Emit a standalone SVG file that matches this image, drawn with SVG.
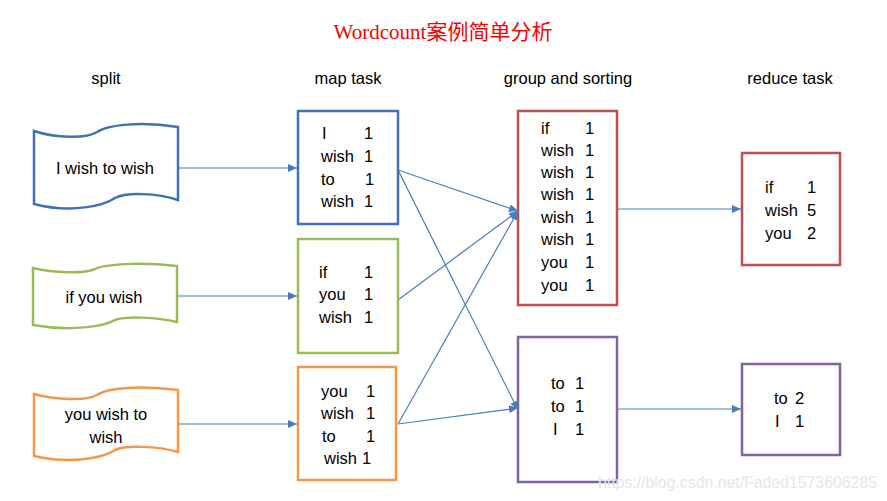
<svg xmlns="http://www.w3.org/2000/svg" width="887" height="501" viewBox="0 0 887 501">
<style>
  .t { font-family: "Liberation Sans", Arial, sans-serif; font-size: 16.5px; fill: #000; }
  .title { font-family: "Liberation Serif", "Noto Sans CJK SC", serif; font-size: 21px; fill: #ff0000; }
  .wm { font-family: "Liberation Sans", Arial, sans-serif; font-size: 17px; fill: #e6e6e6; }
  .blue { fill: #fff; stroke: #3F72B5; stroke-width: 2.5; }
  .green { fill: #fff; stroke: #9BBB59; stroke-width: 2.5; }
  .orange { fill: #fff; stroke: #F79646; stroke-width: 2.5; }
  .red { fill: #fff; stroke: #C0504D; stroke-width: 2.5; }
  .purple { fill: #fff; stroke: #8064A2; stroke-width: 2.5; }
  .conn { stroke: #4A7EBB; stroke-width: 1.2; fill: none; marker-end: url(#arr); }
</style>
<defs>
  <marker id="arr" markerUnits="userSpaceOnUse" markerWidth="9" markerHeight="8" refX="9" refY="4" orient="auto">
    <path d="M0,0 L9,4 L0,8 Z" fill="#4A7EBB"/>
  </marker>
</defs>
<rect width="887" height="501" fill="#fff"/>
<text class="title" x="443" y="39" text-anchor="middle">Wordcount案例简单分析</text>
<g id="headers">
  <text class="t" x="106" y="84" text-anchor="middle">split</text>
  <text class="t" x="348" y="84" text-anchor="middle">map task</text>
  <text class="t" x="568" y="84" text-anchor="middle">group and sorting</text>
  <text class="t" x="790" y="84" text-anchor="middle">reduce task</text>
</g>
<g id="connectors">
  <line class="conn" x1="178" y1="168" x2="297" y2="168"/>
  <line class="conn" x1="177" y1="296" x2="297" y2="296"/>
  <line class="conn" x1="178" y1="424" x2="297" y2="424"/>
  <line class="conn" x1="398" y1="170" x2="518" y2="211"/>
  <line class="conn" x1="398" y1="170" x2="518" y2="410"/>
  <line class="conn" x1="398" y1="300" x2="518" y2="211"/>
  <line class="conn" x1="398" y1="424" x2="518" y2="211"/>
  <line class="conn" x1="398" y1="424" x2="518" y2="408"/>
  <line class="conn" x1="617" y1="209" x2="741" y2="209"/>
  <line class="conn" x1="617" y1="409" x2="741" y2="409"/>
</g>
<g id="split1">
  <path class="blue" d="M34,131 C55,138 86,139 97,132 C107,125 140,121 178,127 L178,200 C157,193 126,192 115,198 C105,205 72,214 34,204 Z"/>
  <text class="t" x="105" y="174" text-anchor="middle">I wish to wish</text>
</g>
<g id="split2">
  <path class="green" d="M33,268 C54,273 84,274 95,269 C105,264 140,262 177,266 L177,322 C156,317 126,316 115,320 C105,326 72,332 33,325 Z"/>
  <text class="t" x="104" y="303" text-anchor="middle">if you wish</text>
</g>
<g id="split3">
  <path class="orange" d="M34,394 C55,400 86,401 97,395 C107,388 140,385 178,390 L178,452 C157,446 126,445 115,450 C105,457 72,465 34,456 Z"/>
  <text class="t" x="106" y="420" text-anchor="middle">you wish to</text>
  <text class="t" x="106" y="443" text-anchor="middle">wish</text>
</g>
<g id="map1">
  <rect class="blue" x="298" y="111" width="100" height="113"/>
  <text class="t" x="322" y="139">I</text><text class="t" x="364" y="139">1</text>
  <text class="t" x="321" y="162">wish</text><text class="t" x="364" y="162">1</text>
  <text class="t" x="321" y="185">to</text><text class="t" x="365" y="185">1</text>
  <text class="t" x="321" y="207">wish</text><text class="t" x="364" y="207">1</text>
</g>
<g id="map2">
  <rect class="green" x="298" y="239" width="100" height="114"/>
  <text class="t" x="319" y="278">if</text><text class="t" x="364" y="278">1</text>
  <text class="t" x="319" y="300">you</text><text class="t" x="364" y="300">1</text>
  <text class="t" x="319" y="323">wish</text><text class="t" x="364" y="323">1</text>
</g>
<g id="map3">
  <rect class="orange" x="298" y="367" width="98" height="113"/>
  <text class="t" x="321" y="397">you</text><text class="t" x="366" y="397">1</text>
  <text class="t" x="321" y="419">wish</text><text class="t" x="366" y="419">1</text>
  <text class="t" x="322" y="442">to</text><text class="t" x="366" y="442">1</text>
  <text class="t" x="324" y="464">wish</text><text class="t" x="362" y="464">1</text>
</g>
<g id="group1">
  <rect class="red" x="518" y="111" width="99" height="194"/>
  <text class="t" x="541" y="134">if</text><text class="t" x="585" y="134">1</text>
  <text class="t" x="541" y="156">wish</text><text class="t" x="585" y="156">1</text>
  <text class="t" x="541" y="178">wish</text><text class="t" x="585" y="178">1</text>
  <text class="t" x="541" y="200">wish</text><text class="t" x="585" y="200">1</text>
  <text class="t" x="541" y="223">wish</text><text class="t" x="585" y="223">1</text>
  <text class="t" x="541" y="245">wish</text><text class="t" x="585" y="245">1</text>
  <text class="t" x="541" y="268">you</text><text class="t" x="585" y="268">1</text>
  <text class="t" x="541" y="291">you</text><text class="t" x="585" y="291">1</text>
</g>
<g id="group2">
  <rect class="purple" x="518" y="337" width="99" height="145"/>
  <text class="t" x="551" y="389">to</text><text class="t" x="575" y="389">1</text>
  <text class="t" x="551" y="412">to</text><text class="t" x="575" y="412">1</text>
  <text class="t" x="553" y="435">I</text><text class="t" x="575" y="435">1</text>
</g>
<g id="reduce1">
  <rect class="red" x="742" y="153" width="98" height="112"/>
  <text class="t" x="765" y="193">if</text><text class="t" x="807" y="193">1</text>
  <text class="t" x="765" y="216">wish</text><text class="t" x="807" y="216">5</text>
  <text class="t" x="765" y="239">you</text><text class="t" x="807" y="239">2</text>
</g>
<g id="reduce2">
  <rect class="purple" x="742" y="364" width="98" height="91"/>
  <text class="t" x="774" y="404">to</text><text class="t" x="795" y="404">2</text>
  <text class="t" x="775" y="427">I</text><text class="t" x="795" y="427">1</text>
</g>
<text class="wm" x="598" y="488" textLength="279" lengthAdjust="spacingAndGlyphs">https://blog.csdn.net/Faded1573606285</text>
</svg>
